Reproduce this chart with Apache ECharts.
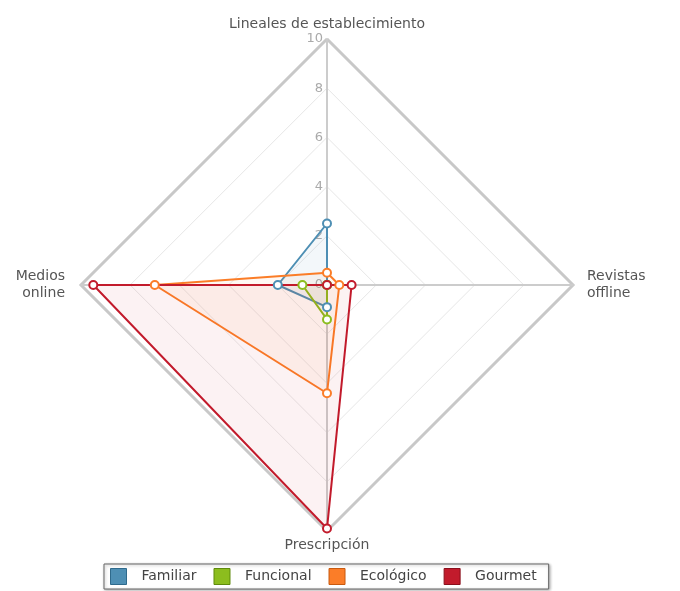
<!DOCTYPE html>
<html><head><meta charset="utf-8">
<script src="https://cdn.jsdelivr.net/npm/echarts@6/dist/echarts.min.js"></script>
<style>html,body{margin:0;padding:0;background:#fff}#c{width:680px;height:591px}</style>
</head><body><div id="c"></div>
<script>
// indicators listed counterclockwise from the top (ECharts radar order)
const indicators = ['Lineales de establecimiento', 'Medios\nonline', 'Prescripción', 'Revistas\noffline'];
const maxValue = 10;
const seriesNames = ['Familiar', 'Funcional', 'Ecológico', 'Gourmet'];
const familiar = [2.5, 2, 0.9, 0];
const funcional = [0, 1, 1.4, 0];
const ecologico = [0.5, 7, 4.4, 0.5];
const gourmet = [0, 9.5, 9.9, 1];
const colors = ['#4e8fb4', '#8cbd1e', '#fb7d28', '#c21b2c'];
const borders = ['#2f6a8c', '#5f8a0c', '#c85a10', '#8a0f1c'];
const fills = ['rgba(78,143,180,0.10)', 'rgba(140,189,30,0.08)', 'rgba(251,125,40,0.08)', 'rgba(194,27,44,0.08)'];

const allData = [familiar, funcional, ecologico, gourmet];
const chart = echarts.init(document.getElementById('c'));
const nameStyle = { color: '#555', fontSize: 14, fontFamily: 'DejaVu Sans', lineHeight: 17 };
chart.setOption({
  animation: false,
  textStyle: { fontFamily: 'DejaVu Sans' },
  legend: {
    bottom: 2, left: 104,
    data: seriesNames.map((n, i) => ({ name: n, itemStyle: { color: colors[i], borderColor: borders[i], borderWidth: 1 } })),
    icon: 'rect', itemWidth: 16, itemHeight: 16, itemGap: 17,
    borderColor: '#666', borderWidth: 1, padding: [4, 12, 4, 6],
    backgroundColor: '#fff',
    shadowColor: 'rgba(0,0,0,0.3)', shadowBlur: 3, shadowOffsetX: 1, shadowOffsetY: 1,
    textStyle: { color: '#444', fontSize: 14, padding: [0, 4, 0, 10], fontFamily: 'DejaVu Sans' }
  },
  radar: [{
    center: [327, 285], radius: 246,
    startAngle: 90, splitNumber: 5, shape: 'polygon',
    indicator: indicators.map((n, i) => i === 0
      ? { name: n, max: maxValue, min: 0, axisLabel: { show: true } }
      : { name: n, max: maxValue, min: 0 }),
    axisName: {
      formatter: function (v) {
        if (v.indexOf('Medios') === 0) return v.split('\n').map(s => '{l|' + s + '}').join('\n');
        if (v.indexOf('Revistas') === 0) return v.split('\n').map(s => '{r|' + s + '}').join('\n');
        return '{t|' + v + '}';
      },
      rich: {
        l: Object.assign({ padding: [0, 10, 0, 0] }, nameStyle),
        r: Object.assign({ padding: [0, 0, 0, 8] }, nameStyle),
        t: Object.assign({ padding: [0, 0, 0, 0] }, nameStyle)
      }
    },
    nameGap: 6,
    axisLine: { lineStyle: { color: '#cccccc', width: 2 } },
    splitLine: { lineStyle: { color: '#e6e6e6', width: 1 } },
    splitArea: { show: false },
    axisLabel: { show: false, color: '#aaa', fontSize: 13, margin: 4 }
  }, {
    center: [327, 285], radius: 246,
    startAngle: 90, splitNumber: 1, shape: 'polygon',
    indicator: indicators.map(() => ({ name: '', max: maxValue, min: 0 })),
    axisName: { show: false },
    axisLine: { show: false },
    splitLine: { lineStyle: { color: '#c8c8c8', width: 3 } },
    splitArea: { show: false },
    axisLabel: { show: false }
  }],
  series: seriesNames.map((name, i) => ({
    name, type: 'radar', radarIndex: 0, z: 3,
    color: colors[i],
    symbol: 'circle', symbolSize: 8,
    itemStyle: { color: '#fff', borderColor: colors[i], borderWidth: 2 },
    lineStyle: { color: colors[i], width: 2 },
    areaStyle: { color: fills[i] },
    data: [{ value: allData[i], name }]
  }))
});
</script></body></html>
